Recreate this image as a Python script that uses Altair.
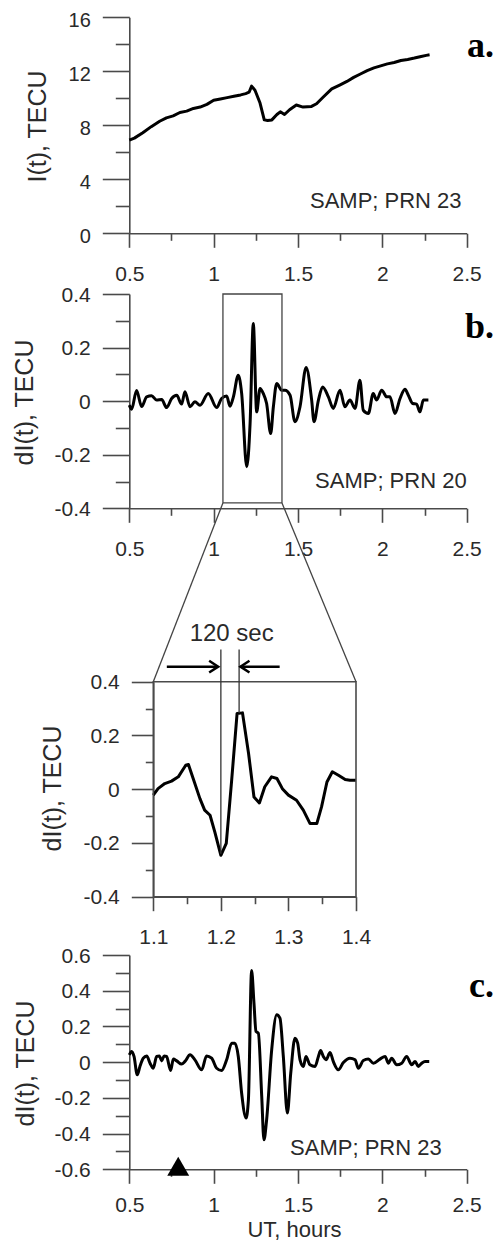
import altair as alt
import pandas as pd

# ---------------- data ----------------
# panel a: I(t), TECU
A_T = [0.50, 0.53, 0.58, 0.63, 0.68, 0.72, 0.76, 0.80, 0.84, 0.88,
       0.92, 0.96, 1.00, 1.04, 1.08, 1.12, 1.16, 1.19, 1.21, 1.225,
       1.245, 1.275, 1.30, 1.32, 1.345, 1.375, 1.395, 1.42, 1.45, 1.49,
       1.53, 1.58, 1.61, 1.65, 1.70, 1.75, 1.79, 1.83, 1.87, 1.91,
       1.95, 1.99, 2.03, 2.07, 2.11, 2.15, 2.19, 2.23, 2.26, 2.28]
A_I = [6.90, 7.05, 7.45, 7.90, 8.30, 8.55, 8.70, 8.95, 9.05, 9.25,
       9.35, 9.55, 9.85, 9.95, 10.05, 10.15, 10.25, 10.35, 10.45, 10.90,
       10.60, 9.65, 8.40, 8.35, 8.40, 8.80, 9.00, 8.80, 9.15, 9.50,
       9.35, 9.40, 9.60, 10.10, 10.70, 11.00, 11.25, 11.55, 11.80, 12.05,
       12.25, 12.40, 12.55, 12.65, 12.80, 12.88, 12.98, 13.10, 13.18, 13.22]

# panel b: dI(t), PRN 20
B_T = [0.500, 0.514, 0.543, 0.573, 0.603, 0.632, 0.662, 0.692, 0.721, 0.751,
       0.781, 0.810, 0.830, 0.860, 0.889, 0.919, 0.968, 1.018, 1.047, 1.077,
       1.097, 1.117, 1.146, 1.166, 1.196, 1.216, 1.235, 1.255, 1.275, 1.294,
       1.314, 1.338, 1.354, 1.374, 1.403, 1.423, 1.453, 1.482, 1.512, 1.548,
       1.581, 1.595, 1.621, 1.646, 1.680, 1.709, 1.749, 1.778, 1.808, 1.838,
       1.867, 1.887, 1.917, 1.946, 1.966, 1.996, 2.026, 2.045, 2.075, 2.105,
       2.134, 2.154, 2.180, 2.203, 2.223, 2.243, 2.273]
B_D = [-0.015, -0.030, 0.040, -0.020, 0.016, 0.020, 0.004, 0.006, -0.024, 0.010,
       0.022, -0.011, 0.035, -0.021, -0.002, -0.015, 0.029, -0.024, 0.010, 0.019,
       -0.019, 0.016, 0.097, 0.029, -0.245, -0.083, 0.290, -0.040, 0.047, 0.029,
       -0.009, -0.121, -0.021, 0.066, 0.041, 0.041, 0.022, -0.077, -0.021, 0.126,
       0.004, -0.077, 0.004, 0.053, 0.016, -0.027, 0.041, -0.021, 0.004, -0.027,
       0.078, -0.034, -0.046, 0.029, 0.004, 0.041, 0.016, 0.016, -0.046, 0.010,
       0.044, 0.022, -0.009, -0.011, -0.040, 0.004, 0.004]

# zoomed panel: dI(t), 1.1 - 1.4 h
Z_T = [1.100, 1.107, 1.117, 1.127, 1.137, 1.148, 1.152, 1.159, 1.169, 1.176,
       1.184, 1.191, 1.200, 1.208, 1.216, 1.224, 1.232, 1.241, 1.249, 1.257,
       1.265, 1.275, 1.283, 1.291, 1.300, 1.312, 1.322, 1.332, 1.342, 1.349,
       1.357, 1.365, 1.374, 1.384, 1.391, 1.400]
Z_D = [-0.022, 0.002, 0.021, 0.030, 0.046, 0.089, 0.092, 0.040, -0.035, -0.078,
       -0.097, -0.159, -0.246, -0.202, 0.034, 0.282, 0.284, 0.133, -0.029, -0.051,
       0.009, 0.046, 0.040, 0.002, -0.022, -0.041, -0.078, -0.128, -0.128, -0.066,
       0.027, 0.065, 0.052, 0.036, 0.033, 0.033]

# panel c: dI(t), PRN 23
C_T = [0.500, 0.514, 0.528, 0.547, 0.563, 0.583, 0.603, 0.623, 0.642, 0.662,
       0.678, 0.692, 0.706, 0.721, 0.745, 0.761, 0.781, 0.810, 0.830, 0.860,
       0.889, 0.929, 0.958, 0.988, 1.018, 1.047, 1.077, 1.107, 1.126, 1.146,
       1.166, 1.192, 1.206, 1.225, 1.239, 1.251, 1.265, 1.285, 1.298, 1.314,
       1.344, 1.374, 1.393, 1.413, 1.437, 1.457, 1.482, 1.498, 1.512, 1.532,
       1.547, 1.571, 1.601, 1.621, 1.634, 1.650, 1.666, 1.690, 1.709, 1.739,
       1.769, 1.808, 1.838, 1.858, 1.887, 1.917, 1.947, 1.986, 2.016, 2.036,
       2.055, 2.085, 2.115, 2.144, 2.174, 2.194, 2.213, 2.233, 2.253, 2.278]
C_D = [0.041, 0.060, 0.032, -0.071, -0.024, 0.022, 0.035, -0.006, -0.034, 0.032,
       0.035, 0.007, 0.035, 0.032, -0.047, 0.017, 0.007, -0.011, 0.004, 0.041,
       0.013, -0.043, 0.035, 0.022, -0.034, -0.047, 0.013, 0.106, 0.106, 0.032,
       -0.174, -0.313, -0.211, 0.513, 0.330, 0.172, 0.162, -0.192, -0.435, -0.323,
       0.069, 0.265, 0.246, 0.032, -0.285, -0.062, 0.134, 0.106, 0.013, -0.024,
       0.032, -0.015, -0.024, 0.032, 0.065, 0.032, 0.013, 0.054, 0.004, -0.043,
       -0.002, 0.022, 0.013, -0.034, 0.009, 0.017, -0.006, 0.017, 0.032, -0.006,
       0.022, -0.015, -0.006, 0.032, -0.015, 0.004, -0.024, -0.006, 0.004, 0.004]

# annotations (data units of each panel)
PANEL_LETTERS = ["a.", "b.", "c."]
LETTER_T = [2.502, 2.490, 2.514]
LETTER_V = [13.06, 0.236, 0.365]
STATIONS = ["SAMP; PRN 23", "SAMP; PRN 20", "SAMP; PRN 23"]
STATION_T = [1.571, 1.601, 1.453]
STATION_V = [1.85, -0.325, -0.52]

BOX_T = [1.055, 1.405]          # zoom window drawn in panel b
BOX_V = [-0.38, 0.40]
ZOOM_T = [1.1, 1.4]             # domain of the zoomed panel
ZOOM_V = [-0.4, 0.4]
MARKER_T = [1.200, 1.227]       # trough / peak markers
MARKER_V = [-0.24, 0.284]
MARKER_TOP = 0.52
ARROW_V = 0.456
ARROW_TAIL = [1.120, 1.287]
ARROW_TIP = [1.196, 1.229]
SPAN_LABEL = ["120 sec"]
SPAN_T = [1.216]
SPAN_V = [0.551]
EVENT_T = [0.79]
EVENT_V = [-0.6]

# tick values
X_MAIN_MAJOR = [0.5, 1.0, 1.5, 2.0, 2.5]
X_MAIN_MINOR = [0.75, 1.25, 1.75, 2.25]
X_MAIN_TICKS = [0.5, 0.75, 1.0, 1.25, 1.5, 1.75, 2.0, 2.25, 2.5]
Y_A_MAJOR = [0, 4, 8, 12, 16]
Y_A_MINOR = [2, 6, 10, 14]
Y_B_TICKS = [-0.4, -0.3, -0.2, -0.1, 0, 0.1, 0.2, 0.3, 0.4]
X_Z_TICKS = [1.1, 1.15, 1.2, 1.25, 1.3, 1.35, 1.4]
Y_C_MAJOR = [-0.6, -0.4, -0.2, 0, 0.2, 0.4, 0.6]
Y_C_MINOR = [-0.5, -0.3, -0.1, 0.1, 0.3, 0.5]

# ---------------- layout (pixels inside the chart) ----------------
W, H = 487, 1234
XR_MAIN = [121.3, 458.7]
YR_A = [225.3, 9.3]
YR_B = [500.3, 286.0]
XR_Z = [145.3, 348.0]
YR_Z = [888.7, 673.7]
YR_C = [1161.3, 947.0]

AXIS_COLOR = "#4a4a4a"
TEXT_COLOR = "#2a2a2a"
FONT = "Liberation Sans"


def lin(v, d, r):
    return r[0] + (v - d[0]) / (d[1] - d[0]) * (r[1] - r[0])


def inv(p, d, r):
    return d[0] + (p - r[0]) / (r[1] - r[0]) * (d[1] - d[0])


def sc(domain, rng):
    return alt.Scale(domain=domain, range=rng, nice=False, zero=False)


def titled(kw, orient, title, tx, ty, tsize):
    if orient == "left" and "labelOffset" not in kw:
        kw["labelOffset"] = 1
    if title:
        kw.update(title=title, titleX=tx, titleY=ty, titleAlign="center",
                  titleBaseline="alphabetic", titleFontSize=tsize)
        if orient == "left":
            kw["titleAngle"] = 270
    else:
        kw["title"] = None
    return kw


def cond_axis(orient, offset, values, test, long_t, short_t, pad, title=None, tx=0, ty=0, tsize=25):
    kw = dict(orient=orient, offset=offset, values=values,
              tickSize={"condition": {"test": test, "value": long_t}, "value": short_t},
              labelExpr=f"({test}) ? datum.value + '' : ''",
              labelPadding=pad, labelFlush=False, labelOverlap=False, grid=False)
    return alt.Axis(**titled(kw, orient, title, tx, ty, tsize))


def major_axis(orient, offset, values, size, pad, title=None, tx=0, ty=0, tsize=25, **extra):
    kw = dict(orient=orient, offset=offset, values=values, tickSize=size,
              labelExpr="datum.value + ''", labelPadding=pad,
              labelFlush=False, labelOverlap=False, grid=False, **extra)
    return alt.Axis(**titled(kw, orient, title, tx, ty, tsize))


def minor_axis(orient, offset, values, size):
    return alt.Axis(orient=orient, offset=offset, values=values, tickSize=size,
                    labels=False, domain=False, grid=False, title=None)


def enc(sx, sy, ax=None, ay=None):
    return dict(x=alt.X("t:Q", scale=sx, axis=ax), y=alt.Y("v:Q", scale=sy, axis=ay))


Y10_MAJ = "round(datum.value*10) % 2 === 0"
X_MAJ = "round(datum.value*4) % 2 === 0"


def text_layer(t, v, s, sx, sy, ax=None, ay=None, **mk):
    return alt.Chart(pd.DataFrame({"t": t, "v": v, "s": s})).mark_text(**mk).encode(
        text="s:N", **enc(sx, sy, ax, ay))


STATION_STYLE = dict(align="left", baseline="alphabetic", font=FONT, fontSize=22, color=TEXT_COLOR)
LETTER_STYLE = dict(align="left", baseline="alphabetic", font="Liberation Serif",
                    fontWeight="bold", fontSize=36, color="black")
LINE_STYLE = dict(color="black", strokeWidth=3, strokeJoin="round")

# ---------------- panel a ----------------
sxa, sya = sc([0.5, 2.5], XR_MAIN), sc([0, 16], YR_A)
line_a = alt.Chart(pd.DataFrame({"t": A_T, "v": A_I})).mark_line(**LINE_STYLE).encode(
    **enc(sxa, sya,
          major_axis("bottom", YR_A[0] - H, X_MAIN_MAJOR, 14, 16),
          major_axis("left", -XR_MAIN[0], Y_A_MAJOR, 27, 12,
                     "I(t), TECU", 37 - XR_MAIN[0], 118, labelFontSize=20, labelOffset=3)))
st_a = text_layer(STATION_T[:1], STATION_V[:1], STATIONS[:1], sxa, sya,
                  minor_axis("bottom", YR_A[0] - H, X_MAIN_MINOR, 7),
                  minor_axis("left", -XR_MAIN[0], Y_A_MINOR, 14), **STATION_STYLE)
lt_a = text_layer(LETTER_T[:1], LETTER_V[:1], PANEL_LETTERS[:1], sxa, sya, **LETTER_STYLE)

# ---------------- panel b ----------------
sxb, syb = sc([0.5, 2.5], XR_MAIN), sc([-0.4, 0.4], YR_B)
line_b = alt.Chart(pd.DataFrame({"t": B_T, "v": B_D})).mark_line(
    interpolate="monotone", **LINE_STYLE).encode(
    **enc(sxb, syb,
          cond_axis("bottom", YR_B[0] - H, X_MAIN_TICKS, X_MAJ, 14, 7, 16),
          cond_axis("left", -XR_MAIN[0], Y_B_TICKS, Y10_MAJ, 27, 14, 12,
                    "dI(t), TECU", 24 - XR_MAIN[0], 394)))
box_b = alt.Chart(pd.DataFrame({"t": [BOX_T[0]], "t2": [BOX_T[1]], "v": [BOX_V[0]], "v2": [BOX_V[1]]})).mark_rect(
    fillOpacity=0, stroke="#444444", strokeWidth=1.3).encode(
    x2="t2:Q", y2="v2:Q", **enc(sxb, syb))
st_b = text_layer(STATION_T[1:2], STATION_V[1:2], STATIONS[1:2], sxb, syb, **STATION_STYLE)
lt_b = text_layer(LETTER_T[1:2], LETTER_V[1:2], PANEL_LETTERS[1:2], sxb, syb, **LETTER_STYLE)

# ---------------- zoomed panel ----------------
sxz, syz = sc(ZOOM_T, XR_Z), sc(ZOOM_V, YR_Z)
line_z = alt.Chart(pd.DataFrame({"t": Z_T, "v": Z_D})).mark_line(**LINE_STYLE).encode(
    **enc(sxz, syz,
          cond_axis("bottom", YR_Z[0] - H, X_Z_TICKS, "round(datum.value*20) % 2 === 0", 14, 7, 16),
          cond_axis("left", -XR_Z[0], Y_B_TICKS, Y10_MAJ, 22, 8, 12,
                    "dI(t), TECU", 52 - XR_Z[0], 780)))
frame_z = alt.Chart(pd.DataFrame({"t": [ZOOM_T[0]], "t2": [ZOOM_T[1]], "v": [ZOOM_V[0]], "v2": [ZOOM_V[1]]})).mark_rect(
    fillOpacity=0, stroke=AXIS_COLOR, strokeWidth=1.6).encode(
    x2="t2:Q", y2="v2:Q", **enc(sxz, syz))
conn_t, conn_v = [], []
for bt in BOX_T:
    px = lin(bt, [0.5, 2.5], XR_MAIN)
    py = lin(BOX_V[0], [-0.4, 0.4], YR_B)
    conn_t.append(inv(px, ZOOM_T, XR_Z))
    conn_v.append(inv(py, ZOOM_V, YR_Z))
conn = alt.Chart(pd.DataFrame({"t": conn_t, "v": conn_v, "t2": ZOOM_T, "v2": [ZOOM_V[1]] * 2})).mark_rule(
    color="#444444", strokeWidth=1.3).encode(x2="t2:Q", y2="v2:Q", **enc(sxz, syz))
markers = alt.Chart(pd.DataFrame({"t": MARKER_T, "v": [MARKER_TOP] * 2, "v2": MARKER_V})).mark_rule(
    color="#333333", strokeWidth=1.3).encode(y2="v2:Q", **enc(sxz, syz))
shafts = alt.Chart(pd.DataFrame({"t": ARROW_TAIL, "t2": ARROW_TIP, "v": [ARROW_V] * 2})).mark_rule(
    color="black", strokeWidth=2.5).encode(x2="t2:Q", **enc(sxz, syz))
heads = alt.Chart(pd.DataFrame({"t": ARROW_TIP, "v": [ARROW_V] * 2,
                                "shape": ["M-1,-0.65L0,0L-1,0.65", "M1,-0.65L0,0L1,0.65"]})).mark_point(
    filled=False, color="black", strokeWidth=2.5, size=324, opacity=1).encode(
    shape=alt.Shape("shape:N", scale=None), **enc(sxz, syz))
span = text_layer(SPAN_T, SPAN_V, SPAN_LABEL, sxz, syz, align="center", baseline="alphabetic",
                  font=FONT, fontSize=24, color=TEXT_COLOR)

# ---------------- panel c ----------------
sxc, syc = sc([0.5, 2.5], XR_MAIN), sc([-0.6, 0.6], YR_C)
line_c = alt.Chart(pd.DataFrame({"t": C_T, "v": C_D})).mark_line(
    interpolate="monotone", **LINE_STYLE).encode(
    **enc(sxc, syc,
          major_axis("bottom", YR_C[0] - H, X_MAIN_MAJOR, 14, 11, "UT, hours", 286, 67, tsize=22),
          major_axis("left", -XR_MAIN[0], Y_C_MAJOR, 27, 12,
                     "dI(t), TECU", 25 - XR_MAIN[0], 1055)))
event = alt.Chart(pd.DataFrame({"t": EVENT_T, "v": EVENT_V})).mark_point(
    shape="triangle-up", filled=True, color="black", size=480, opacity=1, yOffset=-3).encode(
    **enc(sxc, syc))
st_c = text_layer(STATION_T[2:], STATION_V[2:], STATIONS[2:], sxc, syc,
                  minor_axis("bottom", YR_C[0] - H, X_MAIN_MINOR, 7),
                  minor_axis("left", -XR_MAIN[0], Y_C_MINOR, 14), **STATION_STYLE)
lt_c = text_layer(LETTER_T[2:], LETTER_V[2:], PANEL_LETTERS[2:], sxc, syc, **LETTER_STYLE)

layers = [line_a, st_a, lt_a,
          line_b, box_b, st_b, lt_b,
          line_z, frame_z, conn, markers, shafts, heads, span,
          line_c, event, st_c, lt_c]

chart = alt.layer(*layers).resolve_scale(
    x="independent", y="independent").resolve_axis(
    x="independent", y="independent").properties(
    width=W, height=H, autosize=alt.AutoSizeParams(type="none"), padding=0,
    background="white").configure_view(strokeWidth=0).configure_axis(
    domainColor=AXIS_COLOR, domainWidth=1.6, tickColor=AXIS_COLOR, tickWidth=1.6,
    labelFont=FONT, labelFontSize=21, labelColor=TEXT_COLOR,
    titleFont=FONT, titleFontSize=25, titleFontWeight="normal", titleColor=TEXT_COLOR)

chart.save("out.html", embed_options={"renderer": "svg", "actions": False})
